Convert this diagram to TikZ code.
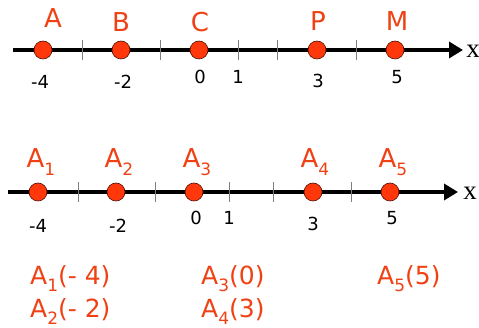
\documentclass[tikz,border=0pt]{standalone}
\usepackage{fontspec}
\setmainfont{DejaVu Sans}
\newfontfamily\xfont{Liberation Serif}
\usetikzlibrary{arrows.meta}
\definecolor{ptred}{RGB}{255,55,10}
\definecolor{txtred}{RGB}{240,65,20}
\tikzset{
  axis/.style={line width=4pt,-{Triangle[length=14pt,width=16pt]}},
  tickmark/.style={gray,line width=0.8pt},
  dot/.style={circle,fill=ptred,draw=black!70!ptred,line width=0.6pt,minimum size=18pt,inner sep=0pt},
  ptlabel/.style={text=txtred,font=\fontsize{26}{28}\selectfont,inner sep=0pt,anchor=base},
  numlabel/.style={font=\fontsize{18}{20}\selectfont,inner sep=0pt,anchor=base},
  axlabel/.style={font=\xfont\fontsize{27}{29}\selectfont,inner sep=0pt,anchor=base},
  coordtext/.style={text=txtred,font=\fontsize{25}{27}\selectfont,inner sep=0pt,anchor=base west},
}
\newcommand{\sbs}[1]{\raisebox{-0.28em}{\fontsize{17}{19}\selectfont #1}}
\begin{document}
\begin{tikzpicture}[x=1pt,y=-1pt]
\useasboundingbox (0,0) rectangle (479,328);
% ---------- top axis ----------
\coordinate (s1) at (13,50);
\coordinate (e1) at (463,50);
\draw[axis] (s1) -- (e1);
\foreach \t in {82,160,238,277,356}{\draw[tickmark] (\t,40) -- (\t,60);}
\node[dot] (A) at (43,50) {};
\node[dot] (B) at (121,50) {};
\node[dot] (C) at (199,50) {};
\node[dot] (P) at (317,50) {};
\node[dot] (M) at (395,50) {};
\node[ptlabel] (lA) at (53,28) {A};
\node[ptlabel] (lB) at (121,32) {B};
\node[ptlabel] (lC) at (200,32) {C};
\node[ptlabel] (lP) at (318,31) {P};
\node[ptlabel] (lM) at (397,31) {M};
\node[numlabel] (n1a) at (40,89) {-4};
\node[numlabel] (n1b) at (123,89) {-2};
\node[numlabel] (n1c) at (200,84) {0};
\node[numlabel] (n1d) at (238,84) {1};
\node[numlabel] (n1e) at (318,88) {3};
\node[numlabel] (n1f) at (397,84) {5};
\node[axlabel] (x1) at (473,58) {x};
% ---------- bottom axis ----------
\coordinate (s2) at (8,192);
\coordinate (e2) at (458,192);
\draw[axis] (s2) -- (e2);
\foreach \t in {78,155,229,273,351}{\draw[tickmark] (\t,182) -- (\t,202);}
\node[dot] (A1) at (38,192) {};
\node[dot] (A2) at (116,192) {};
\node[dot] (A3) at (194,192) {};
\node[dot] (A4) at (313,192) {};
\node[dot] (A5) at (390,192) {};
\node[ptlabel] (lA1) at (41,168) {A\sbs{1}};
\node[ptlabel] (lA2) at (119,168) {A\sbs{2}};
\node[ptlabel] (lA3) at (197,168) {A\sbs{3}};
\node[ptlabel] (lA4) at (315,168) {A\sbs{4}};
\node[ptlabel] (lA5) at (393,168) {A\sbs{5}};
\node[numlabel] (n2a) at (38,233) {-4};
\node[numlabel] (n2b) at (118,233) {-2};
\node[numlabel] (n2c) at (196,225) {0};
\node[numlabel] (n2d) at (229,225) {1};
\node[numlabel] (n2e) at (313,231) {3};
\node[numlabel] (n2f) at (392,225) {5};
\node[axlabel] (x2) at (470,200) {x};
% ---------- coordinate list ----------
\node[coordtext] (c1) at (30,285) {A\sbs{1}(- 4)};
\node[coordtext] (c2) at (30,318) {A\sbs{2}(- 2)};
\node[coordtext] (c3) at (201,285) {A\sbs{3}(0)};
\node[coordtext] (c4) at (201,318) {A\sbs{4}(3)};
\node[coordtext] (c5) at (377,285) {A\sbs{5}(5)};
\end{tikzpicture}
\end{document}
